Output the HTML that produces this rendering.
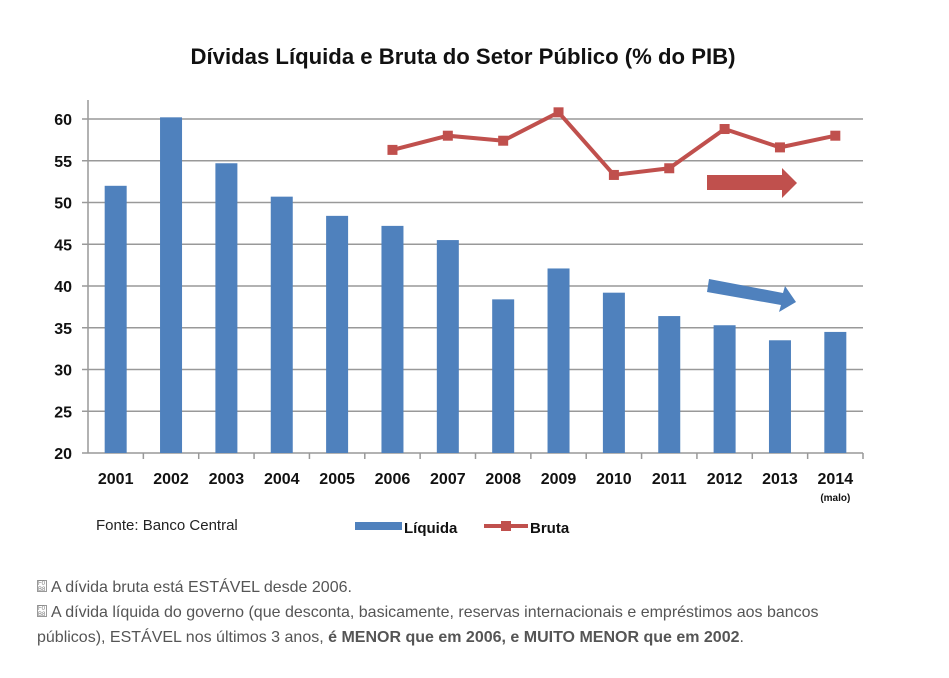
<!DOCTYPE html>
<html><head><meta charset="utf-8">
<style>
html,body{margin:0;padding:0;background:#fff;width:949px;height:678px;overflow:hidden;font-family:"Liberation Sans",sans-serif}
#chart{position:absolute;left:0;top:0}
.note{position:absolute;left:37px;font-size:16px;color:#555;line-height:25px;width:845px}
.ico{display:inline-block;width:10px;height:12px;border:1px solid #999;font-size:6px;line-height:6px;vertical-align:1px;margin-right:4px;color:#777;box-sizing:border-box}
</style></head><body>
<svg id="chart" width="949" height="560" xmlns="http://www.w3.org/2000/svg">
<text x="463" y="64" text-anchor="middle" font-family="Liberation Sans, sans-serif" font-weight="bold" font-size="22" fill="#111" textLength="545" lengthAdjust="spacingAndGlyphs">Dívidas Líquida e Bruta do Setor Público (% do PIB)</text>
<g id="grid"></g><g id="bars"></g><g id="line"></g><g id="axes"></g>
<g><polygon points="707,175 782,175 782,168 797,183 782,198 782,190 707,190" fill="#c0504d"/></g>
<g><polygon points="709,279 783,293 785,286 796,302 779,312 781,305 707,292" fill="#4f81bd"/></g>
<text x="96" y="530" font-size="15" fill="#222">Fonte: Banco Central</text>
<g><rect x="355" y="522" width="47" height="8" fill="#4f81bd"/><text x="404" y="533" font-size="15" font-weight="bold" fill="#111">Líquida</text></g>
<g><line x1="484" y1="526" x2="528" y2="526" stroke="#c0504d" stroke-width="4"/><rect x="501" y="521" width="10" height="10" fill="#c0504d"/><text x="530" y="533" font-size="15" font-weight="bold" fill="#111">Bruta</text></g>
</svg>
<div class="note" style="top:575px"><span class="ico">F0<br>B8</span>A dívida bruta está ESTÁVEL desde 2006.</div>
<div class="note" style="top:600px"><span class="ico">F0<br>B8</span>A dívida líquida do governo (que desconta, basicamente, reservas internacionais e empréstimos aos bancos públicos), ESTÁVEL nos últimos 3 anos, <b>é MENOR que em 2006, e MUITO MENOR que em 2002</b>.</div>
<script>
const years=["2001","2002","2003","2004","2005","2006","2007","2008","2009","2010","2011","2012","2013","2014"];
const liquida=[52,60.2,54.7,50.7,48.4,47.2,45.5,38.4,42.1,39.2,36.4,35.3,33.5,34.5];
const bruta=[null,null,null,null,null,56.3,58.0,57.4,60.8,53.3,54.1,58.8,56.6,58.0];
const yTicks=[20,25,30,35,40,45,50,55,60];
const NS="http://www.w3.org/2000/svg";
const L=88,R=863,T0=453,T1=119;
const y=v=>T0-(v-20)*(T0-T1)/40;
const bw=(R-L)/years.length;
const xc=i=>L+bw*(i+0.5);
function mk(tag,attrs,parent){const e=document.createElementNS(NS,tag);for(const k in attrs)e.setAttribute(k,attrs[k]);document.getElementById(parent).appendChild(e);return e;}
yTicks.forEach(t=>{
 const g=mk('line',{x1:82,x2:R,y1:y(t),y2:y(t),stroke:'#999','stroke-width':1.5},'grid');
 
 
 const tx=mk('text',{x:72,y:y(t)+6,'text-anchor':'end','font-size':16,'font-weight':'bold',fill:'#111'},'axes');
 tx.textContent=t;
 
 
});
mk('line',{x1:L,x2:L,y1:100,y2:T0,stroke:'#999','stroke-width':1.5},'axes');
years.forEach((yr,i)=>{
 const b=mk('rect',{x:xc(i)-11,y:y(liquida[i]),width:22,height:T0-y(liquida[i]),fill:'#4f81bd'},'bars');
 
 
 mk('line',{x1:L+bw*(i+1),x2:L+bw*(i+1),y1:T0,y2:T0+6,stroke:'#999','stroke-width':1.5},'axes');
 const t=mk('text',{x:xc(i),y:484,'text-anchor':'middle','font-size':16,'font-weight':'bold',fill:'#111'},'axes');
 t.textContent=yr;
 
 
});
const mt=mk('text',{x:xc(13),y:501,'text-anchor':'middle','font-size':10,'font-weight':'bold',fill:'#111'},'axes');mt.textContent='(malo)';
let pts=[];bruta.forEach((v,i)=>{if(v!=null)pts.push(xc(i)+','+y(v));});
const pl=mk('polyline',{points:pts.join(' '),fill:'none',stroke:'#c0504d','stroke-width':4},'line');


bruta.forEach((v,i)=>{if(v==null)return;
 const m=mk('rect',{x:xc(i)-5,y:y(v)-5,width:10,height:10,fill:'#c0504d'},'line');
 
 
});
</script>
</body></html>
